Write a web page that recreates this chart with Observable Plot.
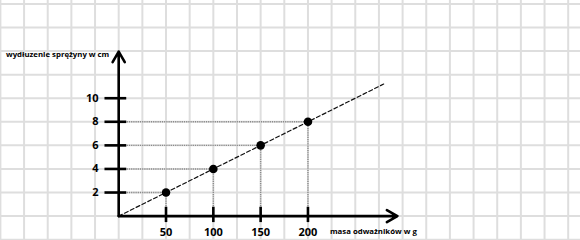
<!DOCTYPE html>
<html><head><meta charset="utf-8">
<script src="https://cdn.jsdelivr.net/npm/d3@7"></script>
<script src="https://cdn.jsdelivr.net/npm/@observablehq/plot@0.6"></script>
<style>
body{margin:0;background:#fff;}
#chart svg{display:block;}
</style>
</head><body><div id="chart"></div>
<script>
// data
const masses = [50, 100, 150, 200];          // masa odważników [g]
const elongations = [2, 4, 6, 8];            // wydłużenie sprężyny [cm]
const xTickValues = [50, 100, 150, 200];
const yTickValues = [2, 4, 6, 8, 10];
const trendX = [0, 280];
const trendY = [0, 11.2];
const xTitle = "masa odważników w g";
const yTitle = "wydłuzenie sprężyny w cm";
const gridXValues = d3.range(-125, 500, 25);
const gridYValues = d3.range(-2, 20, 2);

const points = masses.map((m, i) => ({m, e: elongations[i]}));
const trend = trendX.map((x, i) => ({x, y: trendY[i]}));

const font = "'Open Sans', 'Noto Sans', sans-serif";

const chart = Plot.plot({
  width: 580,
  height: 240,
  margin: 0,
  style: {background: "#fff", fontFamily: font},
  x: {axis: null, domain: [-124.9, 488.0]},
  y: {axis: null, domain: [-2.07, 18.29]},
  marks: [
    // squared paper
    Plot.ruleX(gridXValues, {stroke: "#dedede", strokeWidth: 2}),
    Plot.ruleY(gridYValues, {stroke: "#dedede", strokeWidth: 2}),
    // dotted guides
    Plot.ruleY(points, {y: "e", x1: 9, x2: "m", stroke: "#8a8a8a", strokeWidth: 1.4, strokeDasharray: "1.2,1"}),
    Plot.ruleX(points, {x: "m", y1: 0.8, y2: "e", stroke: "#8a8a8a", strokeWidth: 1.4, strokeDasharray: "1.2,1"}),
    // trend line
    Plot.line(trend, {x: "x", y: "y", stroke: "#111", strokeWidth: 1.2, strokeDasharray: "4,2.5"}),
    // axes with arrows
    Plot.arrow([{x1: 0, y1: 0, x2: 0, y2: 13.95}], {x1: "x1", y1: "y1", x2: "x2", y2: "y2", stroke: "#000", strokeWidth: 2.6, headLength: 7}),
    Plot.arrow([{x1: 0, y1: 0, x2: 294.5, y2: 0}], {x1: "x1", y1: "y1", x2: "x2", y2: "y2", stroke: "#000", strokeWidth: 2.6, headLength: 7}),
    // ticks
    Plot.ruleY(yTickValues, {x1: -14.5, x2: 8.5, stroke: "#000", strokeWidth: 2.6}),
    Plot.ruleX(xTickValues, {y1: -0.55, y2: 0.75, stroke: "#000", strokeWidth: 2.6}),
    // tick labels
    Plot.text(yTickValues, {x: -21.3, y: d => d, text: d => String(d), textAnchor: "end", fontSize: 11, fontWeight: "bold", fill: "#000"}),
    Plot.text(xTickValues, {x: d => d, y: -1.4, text: d => String(d), textAnchor: "middle", fontSize: 11, fontWeight: "bold", fill: "#000"}),
    // titles
    Plot.text([yTitle], {x: -10, y: 13.75, text: d => d, textAnchor: "end", fontSize: 7.8, fontWeight: "bold", fill: "#000"}),
    Plot.text([xTitle], {x: 223.2, y: -1.3, text: d => d, textAnchor: "start", fontSize: 7.8, fontWeight: "bold", fill: "#000"}),
    // points
    Plot.dot(points, {x: "m", y: "e", r: 4.3, fill: "#000", stroke: "none"})
  ]
});
document.getElementById("chart").appendChild(chart);
</script>
</body></html>
